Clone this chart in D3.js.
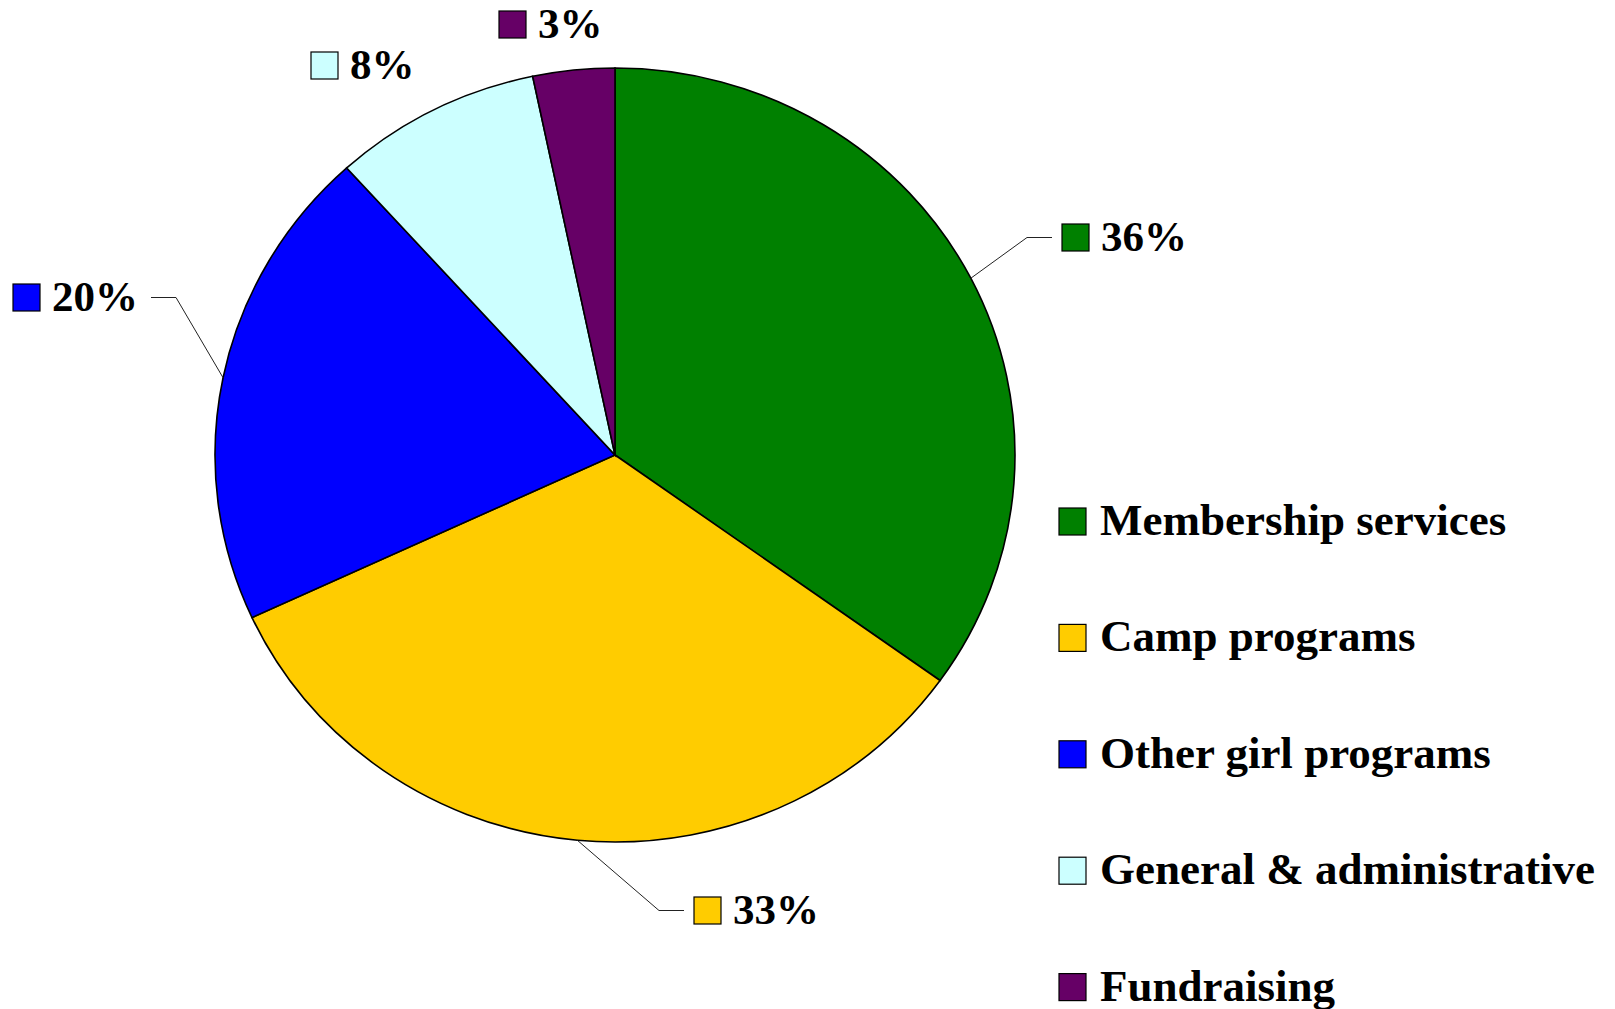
<!DOCTYPE html>
<html>
<head>
<meta charset="utf-8">
<script src="https://cdn.jsdelivr.net/npm/d3@7"></script>
<style>
  body { margin: 0; background: #fff; }
  text { font-family: "Liberation Serif", "Times New Roman", serif; font-weight: bold; fill: #000; }
</style>
</head>
<body>
<svg id="chart"></svg>
<script>
// slice data, clockwise from 12 o'clock
const categories = ['Membership services', 'Camp programs', 'Other girl programs', 'General & administrative', 'Fundraising'];
const shares = [34.9, 33.2, 20.2, 8.4, 3.3];
const pctLabels = ['36%', '33%', '20%', '8%', '3%'];
const colors = ['#008000', '#FFCC00', '#0000FF', '#CCFFFF', '#660066'];

const width = 1615, height = 1009;
const cx = 615, cy = 455, rx = 400, ry = 387;
const box = 27;

// where each percentage label sits (box left, text baseline), and whether it gets a leader line
const labelLayout = [
    {x: 1062, y: 251, leader: true, side: 'right'},
    {x: 694, y: 924, leader: true, side: 'right'},
    {x: 13, y: 311, leader: true, side: 'left'},
    {x: 311, y: 79, leader: false},
    {x: 499, y: 38, leader: false}
];

const svg = d3.select('#chart')
    .attr('width', width)
    .attr('height', height);

const pie = d3.pie().sort(null).value(d => d)(shares);
const arc = d3.arc().innerRadius(0).outerRadius(rx);

let pieG = svg.append('g')
    .attr('transform', 'translate(' + cx + ',' + cy + ') scale(1,' + (ry / rx) + ')');

pieG.selectAll('path')
    .data(pie)
    .enter().append('path')
    .attr('d', arc)
    .attr('fill', (d, i) => colors[i])
    .attr('stroke', '#000')
    .attr('stroke-width', 1.6)
    .attr('vector-effect', 'non-scaling-stroke');

// edge point of a slice at its mid angle
function edgePoint(d) {
    let a = (d.startAngle + d.endAngle) / 2;
    return [cx + rx * Math.sin(a), cy - ry * Math.cos(a)];
}

let labels = svg.append('g').classed('labels', true);

pie.forEach((d, i) => {
    let lp = labelLayout[i];
    let g = labels.append('g');
    g.append('rect')
        .attr('x', lp.x)
        .attr('y', lp.y - box)
        .attr('width', box)
        .attr('height', box)
        .attr('fill', colors[i])
        .attr('stroke', '#000')
        .attr('stroke-width', 1.2);
    let t = g.append('text')
        .attr('x', lp.x + box + 12)
        .attr('y', lp.y)
        .attr('font-size', 43)
        .text(pctLabels[i]);

    if (lp.leader) {
        let p = edgePoint(d);
        let ly = lp.y - box / 2;
        let x1, x2;
        if (lp.side == 'right') {
            x1 = lp.x - 10;
            x2 = lp.x - 35;
        } else {
            let end = lp.x + box + 12 + t.node().getComputedTextLength();
            x1 = end + 13;
            x2 = end + 38;
        }
        g.append('polyline')
            .attr('points', [[x1, ly], [x2, ly], p].map(q => q.join(',')).join(' '))
            .attr('fill', 'none')
            .attr('stroke', '#222')
            .attr('stroke-width', 1);
    }
});

// legend
let legend = svg.append('g').classed('legend', true)
    .attr('transform', 'translate(1059,508)');

let rows = legend.selectAll('g')
    .data(categories)
    .enter().append('g')
    .attr('transform', (d, i) => 'translate(0,' + (i * 116.4) + ')');

rows.append('rect')
    .attr('width', box)
    .attr('height', box)
    .attr('fill', (d, i) => colors[i])
    .attr('stroke', '#000')
    .attr('stroke-width', 1.2);

rows.append('text')
    .attr('x', 41)
    .attr('y', box)
    .attr('font-size', 45)
    .text(d => d);
</script>
</body>
</html>
